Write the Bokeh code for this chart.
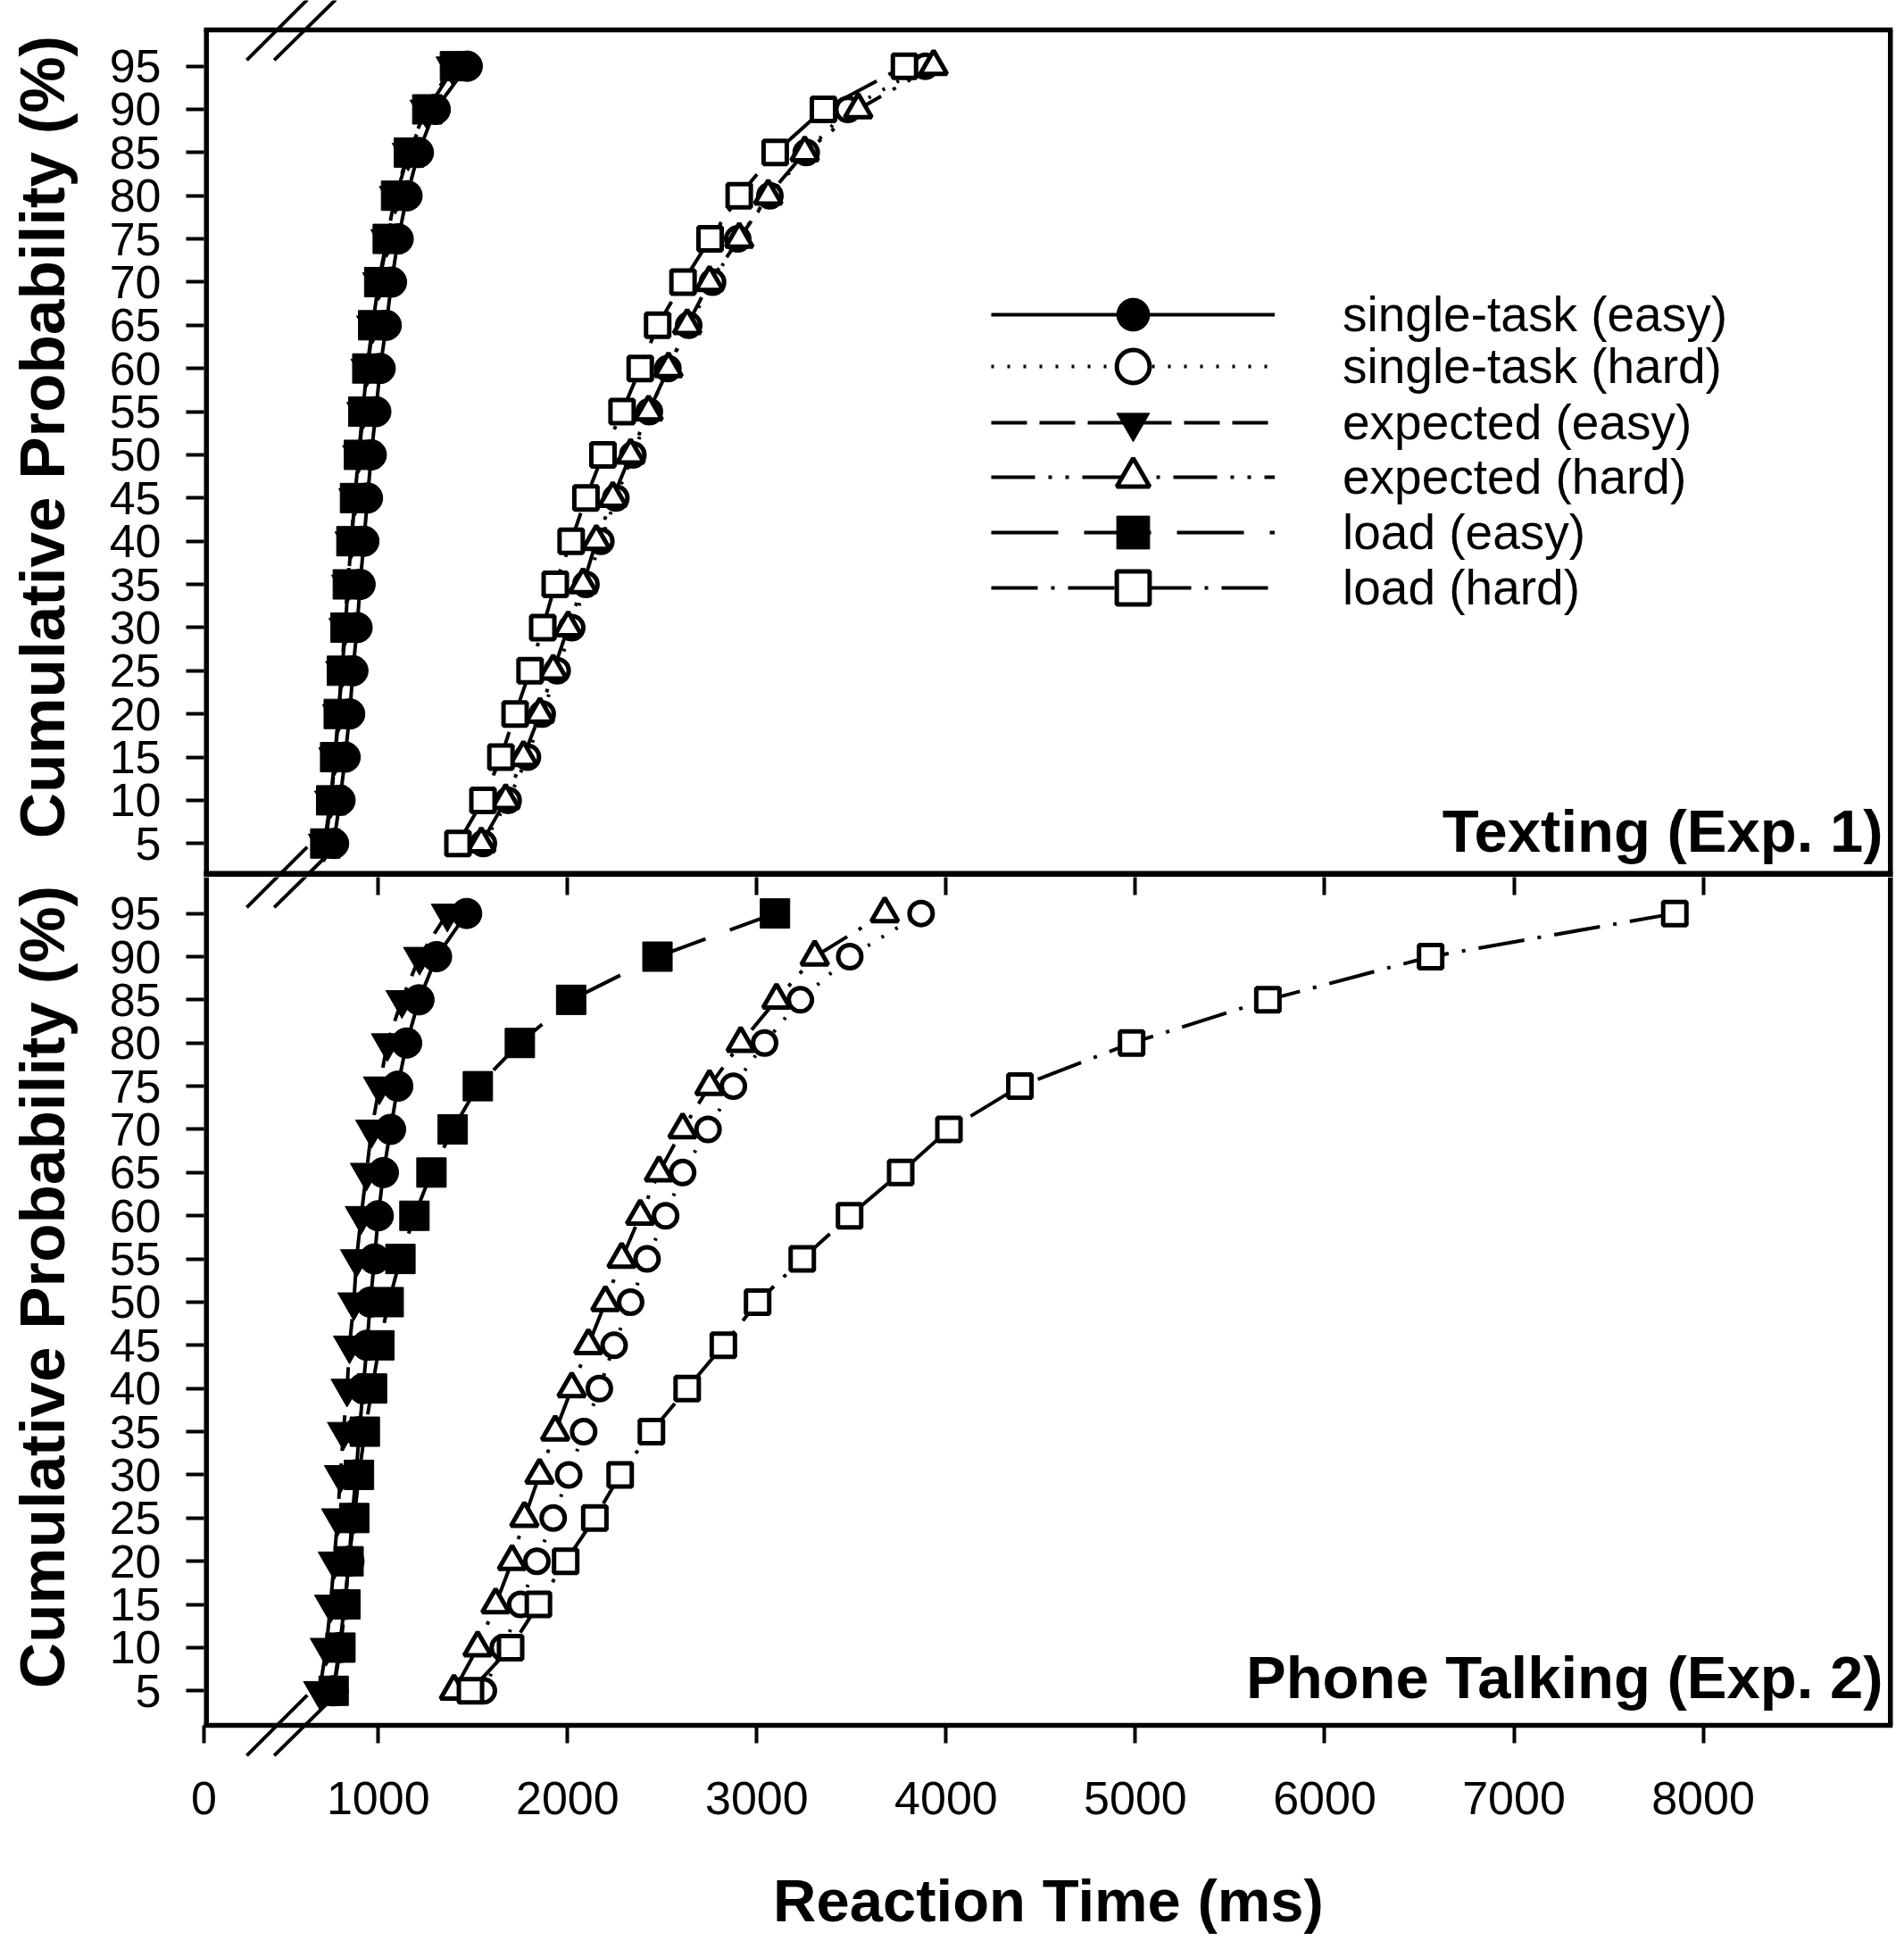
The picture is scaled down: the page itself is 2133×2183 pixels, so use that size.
import math
from bokeh.plotting import figure
from bokeh.models import (Range1d, FixedTicker, LinearAxis, Label, Legend, LegendItem,
                          PolyAnnotation)
from bokeh.layouts import column
from bokeh.embed import file_html
from bokeh.resources import INLINE

# ---------------- data ----------------
PROB = [5, 10, 15, 20, 25, 30, 35, 40, 45, 50, 55, 60, 65, 70, 75, 80, 85, 90, 95]

# Texting (Exp. 1)
TXT_SINGLE_EASY = [764, 798, 825, 849, 866, 888, 904, 924, 943, 963, 987, 1010, 1042, 1070, 1105, 1152, 1212, 1301, 1470]
TXT_SINGLE_HARD = [1555, 1686, 1788, 1866, 1945, 2022, 2097, 2176, 2255, 2345, 2432, 2530, 2640, 2766, 2899, 3069, 3261, 3481, 3890]
TXT_EXPECT_EASY = [715, 748, 770, 790, 806, 824, 838, 856, 876, 896, 918, 940, 970, 1002, 1045, 1090, 1158, 1252, 1390]
TXT_EXPECT_HARD = [1544, 1673, 1767, 1854, 1924, 2003, 2082, 2152, 2239, 2333, 2428, 2533, 2632, 2750, 2907, 3060, 3253, 3536, 3934]
TXT_LOAD_EASY = [720, 751, 772, 791, 808, 827, 839, 858, 877, 898, 921, 942, 973, 1005, 1050, 1094, 1162, 1259, 1405]
TXT_LOAD_HARD = [1421, 1553, 1648, 1723, 1802, 1869, 1935, 2019, 2097, 2187, 2288, 2384, 2476, 2610, 2753, 2907, 3097, 3352, 3780]

# Phone Talking (Exp. 2)
PHN_SINGLE_EASY = [762, 795, 822, 845, 862, 882, 900, 920, 940, 958, 980, 1000, 1027, 1065, 1103, 1150, 1215, 1308, 1467]
PHN_SINGLE_HARD = [1555, 1660, 1752, 1838, 1924, 2006, 2085, 2168, 2246, 2333, 2420, 2518, 2608, 2742, 2876, 3041, 3230, 3491, 3868]
PHN_EXPECT_EASY = [690, 725, 748, 767, 785, 800, 816, 835, 848, 871, 885, 910, 937, 965, 1006, 1048, 1125, 1218, 1365]
PHN_EXPECT_HARD = [1400, 1525, 1620, 1707, 1772, 1852, 1935, 2022, 2110, 2200, 2286, 2384, 2483, 2608, 2750, 2915, 3104, 3306, 3676]
PHN_LOAD_EASY = [764, 800, 826, 843, 873, 898, 929, 967, 1006, 1055, 1117, 1191, 1281, 1393, 1526, 1748, 2019, 2475, 3096]
PHN_LOAD_HARD = [1487, 1699, 1846, 1990, 2144, 2278, 2443, 2632, 2823, 3004, 3240, 3490, 3760, 4015, 4390, 4980, 5700, 6560, 7850]

SERIES_NAMES = ["single-task (easy)", "single-task (hard)", "expected (easy)",
                "expected (hard)", "load (easy)", "load (hard)"]
TXT_DATA = [TXT_SINGLE_EASY, TXT_SINGLE_HARD, TXT_EXPECT_EASY, TXT_EXPECT_HARD, TXT_LOAD_EASY, TXT_LOAD_HARD]
PHN_DATA = [PHN_SINGLE_EASY, PHN_SINGLE_HARD, PHN_EXPECT_EASY, PHN_EXPECT_HARD, PHN_LOAD_EASY, PHN_LOAD_HARD]

X_TICKS = [1000, 2000, 3000, 4000, 5000, 6000, 7000, 8000]
X_ZERO_POS = 79          # where the broken axis shows "0"
X_END = 9002
Y_TICKS = PROB
PANEL_TITLES = ["Texting (Exp. 1)", "Phone Talking (Exp. 2)"]
Y_TITLE = "Cumulative Probability (%)"
X_TITLE = "Reaction Time (ms)"
BREAK_X = [(305, 625), (450, 775)]   # axis-break slashes (lower x, upper x)
BREAK_DY = 3.5

# ---------------- layout / styles ----------------
FONT = "Liberation Sans"
STYLES = [
    dict(marker="circle", size=34, fill="black", lw=1, dash="solid"),
    dict(marker="circle", size=26, fill="white", lw=5, dash="3 15"),
    dict(marker="inverted_triangle", size=36, fill="black", lw=1, dash="40 14"),
    dict(marker="triangle", size=30, fill="white", lw=5, dash="49 15 4 15 4 15"),
    dict(marker="square", size=33, fill="black", lw=1, dash="75 29"),
    dict(marker="square", size=26, fill="white", lw=5, dash="52 15 4 15"),
]
LEGEND_BOTTOMS = [584, 526, 463, 402, 340, 278]   # px above the panel bottom
LEGEND_LEFT = 882                                # px right of the panel's left side

W = 2123
BOX_LEFT_PX = 228               # panel box starts this far right of the plotting area
BORDER_R = 3
BOX_W = W - BOX_LEFT_PX - BORDER_R
PX_PER_X = BOX_W / (X_END - X_ZERO_POS)
X_LEFT_EXT = X_ZERO_POS - BOX_LEFT_PX / PX_PER_X
PX_PER_Y = 9.674
TOP_H, BOT_H = 982, 1185
TOP_VIS = (1.1, 99.2)           # visible panel box of the upper panel
BOT_VIS = (1.0, 99.2)
TOP_ABOVE_PX = 33               # room above the upper panel box
BOT_BELOW_PX = 235              # room below the lower panel box
TOP_Y = (TOP_VIS[0], TOP_VIS[1] + TOP_ABOVE_PX / PX_PER_Y)
BOT_Y = (BOT_VIS[0] - BOT_BELOW_PX / PX_PER_Y, BOT_VIS[1])
EDGE = 5.5
SEP = 7                          # line between the two panels


def make_fig(height, y_rng, x_loc):
    p = figure(width=W, height=height,
               x_range=Range1d(X_LEFT_EXT, X_END), y_range=Range1d(*y_rng),
               output_backend="svg", toolbar_location=None, x_axis_location=x_loc,
               min_border_left=0, min_border_right=BORDER_R,
               min_border_top=0, min_border_bottom=0)
    p.xgrid.visible = False
    p.ygrid.visible = False
    p.outline_line_alpha = 0
    p.background_fill_color = "white"
    p.border_fill_color = "white"
    ya = p.yaxis[0]
    ya.fixed_location = X_ZERO_POS
    ya.ticker = FixedTicker(ticks=Y_TICKS)
    ya.axis_line_alpha = 0
    ya.major_tick_line_width = 4
    ya.major_tick_out = 20
    ya.major_tick_in = 0
    ya.minor_tick_out = 0
    ya.minor_tick_in = 0
    ya.major_label_text_font = FONT
    ya.major_label_text_font_size = "52px"
    ya.major_label_text_color = "black"
    ya.major_label_standoff = 28
    return p


def hline(p, y, w):
    p.line([X_ZERO_POS, X_END], [y, y], line_color="black", line_width=w)


def sides(p, lo, hi):
    xl = X_ZERO_POS + (EDGE / 2) / PX_PER_X
    p.line([xl, xl], [lo, hi], line_color="black", line_width=EDGE)
    p.line([X_END, X_END], [lo, hi], line_color="black", line_width=2 * EDGE)  # half clipped


def draw_series(p, data):
    lines, marks = [], []
    for vals, st in zip(data, STYLES):
        lines.append(p.line(vals, PROB, line_color="black", line_width=4, line_dash=st["dash"]))
    for vals, st in zip(data, STYLES):
        marks.append(p.scatter(vals, PROB, marker=st["marker"], size=st["size"],
                               fill_color=st["fill"], line_color="black", line_width=st["lw"]))
    return lines, marks


def add_breaks(p, y_edge):
    for x0, x1 in BREAK_X:
        p.add_layout(PolyAnnotation(xs=[x0, x1], ys=[y_edge - BREAK_DY, y_edge + BREAK_DY],
                                    fill_alpha=0, line_color="black", line_alpha=1.0,
                                    line_width=4))


def add_text(p, text, x, y, size, align, angle=0.0):
    p.add_layout(Label(x=x, y=y, text=text, text_align=align, text_baseline="middle",
                       angle=angle, text_font=FONT, text_font_size=size,
                       text_font_style="bold", text_color="black"))


def y_title(p, vis, px_below_top):
    add_text(p, Y_TITLE, X_ZERO_POS - 181 / PX_PER_X, vis[1] - px_below_top / PX_PER_Y,
             "71px", "center", angle=math.pi / 2)


# ---------------- top panel ----------------
top = make_fig(TOP_H, TOP_Y, None)
t_lines, t_marks = draw_series(top, TXT_DATA)
hline(top, TOP_VIS[1], EDGE)
hline(top, TOP_VIS[0] + (SEP / 2) / PX_PER_Y, SEP)
sides(top, TOP_VIS[0], TOP_VIS[1])
y_title(top, TOP_VIS, 456)
add_text(top, PANEL_TITLES[0], X_END - 11 / PX_PER_X, TOP_VIS[0] + 52 / PX_PER_Y, "67px", "right")
add_breaks(top, TOP_VIS[1])
add_breaks(top, TOP_VIS[0])

for name, ln, mk, bottom in zip(SERIES_NAMES, t_lines, t_marks, LEGEND_BOTTOMS):
    top.add_layout(Legend(items=[LegendItem(label=name, renderers=[ln, mk])],
                          location=(BOX_LEFT_PX + LEGEND_LEFT, bottom), orientation="vertical",
                          glyph_width=318, glyph_height=92, spacing=0, label_standoff=76,
                          padding=0, margin=0, border_line_alpha=0, background_fill_alpha=0,
                          label_text_font=FONT, label_text_font_size="55px",
                          label_text_color="black", label_text_baseline="middle"))

# ---------------- bottom panel ----------------
bot = make_fig(BOT_H, BOT_Y, "below")
xa = bot.xaxis[0]
xa.fixed_location = BOT_VIS[0]
xa.ticker = FixedTicker(ticks=[X_ZERO_POS] + X_TICKS)
xa.major_label_overrides = {X_ZERO_POS: "0"}
xa.axis_line_alpha = 0
xa.major_tick_line_width = 4
xa.major_tick_out = 20
xa.major_tick_in = 0
xa.minor_tick_out = 0
xa.minor_tick_in = 0
xa.major_label_text_font = FONT
xa.major_label_text_font_size = "52px"
xa.major_label_text_color = "black"
xa.major_label_standoff = 44

# ticks of the upper panel's x axis, pointing down into this panel (no labels)
inner = LinearAxis(ticker=FixedTicker(ticks=[], minor_ticks=X_TICKS),
                   major_tick_in=0, major_tick_out=0,
                   minor_tick_in=20, minor_tick_out=0,
                   minor_tick_line_width=4, minor_tick_line_color="black",
                   axis_line_alpha=0, major_label_standoff=0)
bot.add_layout(inner, "above")

draw_series(bot, PHN_DATA)
hline(bot, BOT_VIS[0], EDGE)
sides(bot, BOT_VIS[0], BOT_VIS[1])
y_title(bot, BOT_VIS, 459)
add_text(bot, PANEL_TITLES[1], X_END - 11 / PX_PER_X, BOT_VIS[0] + 54 / PX_PER_Y, "67px", "right")
add_text(bot, X_TITLE, (X_ZERO_POS + X_END) / 2, BOT_VIS[0] - 196 / PX_PER_Y, "67px", "center")
add_breaks(bot, BOT_VIS[1])
add_breaks(bot, BOT_VIS[0])

layout = column(top, bot, spacing=0)
open("out.html", "w").write(file_html(layout, INLINE))
